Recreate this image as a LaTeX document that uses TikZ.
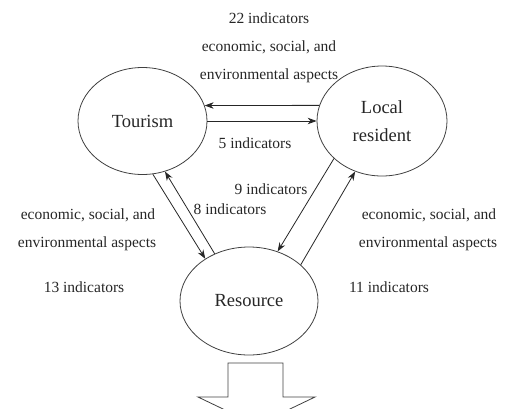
\documentclass[tikz,border=0pt]{standalone}
\usepackage{fontspec}
\setmainfont{Liberation Serif}
\usetikzlibrary{shapes.geometric,arrows.meta}
\begin{document}
\begin{tikzpicture}[>={Stealth[length=9pt,width=6.5pt]}, x=1pt, y=-1pt,
    party/.style={draw=black!75, line width=0.8pt, ellipse, inner sep=0pt, text=black!85, font=\fontsize{18.5}{20}\selectfont},
    lbl/.style={text=black!85, font=\fontsize{15.5}{17}\selectfont, inner sep=0pt},
    link/.style={->, black!85, line width=0.8pt}]
        \clip (0,0) rectangle (513,408);
        \node[party, minimum width=129, minimum height=107] (tour) at (142.5,121) {Tourism};
        \node[party, minimum width=130, minimum height=110, align=center] (loc) at (382,121) {Local\\[8pt]resident};
        \node[party, minimum width=138, minimum height=108] (res) at (249,301) {Resource};
        % labels
        \node[lbl] (l22) at (269,18) {22 indicators};
        \node[lbl] (ltop1) at (269,47) {economic, social, and};
        \node[lbl] (ltop2) at (269,76) {environmental aspects};
        \node[lbl] (l5) at (255,143) {5 indicators};
        \node[lbl] (l9) at (271,189) {9 indicators};
        \node[lbl] (l8) at (230,209) {8 indicators};
        \node[lbl] (lleft1) at (88,215) {economic, social, and};
        \node[lbl] (lleft2) at (87,244) {environmental aspects};
        \node[lbl] (l13) at (84,287) {13 indicators};
        \node[lbl] (lright1) at (429,215) {economic, social, and};
        \node[lbl] (lright2) at (428,244) {environmental aspects};
        \node[lbl] (l11) at (389,287) {11 indicators};
        % connectors
        \draw[link] (loc.166) -- (tour.14);
        \draw[link] (tour.east) -- (loc.west);
        \draw[link] (tour.-79) -- (res.136);
        \draw[link] (res.126) -- (tour.-66);
        \draw[link] (loc.218) -- (res.60);
        \draw[link] (res.35) -- (loc.242);
        % outcome arrow
        \draw[black!75, line width=0.8pt] (228,363) -- (283,363) -- (283,397) -- (315,397) -- (256.5,425) -- (198,397) -- (228,397) -- cycle;
    \end{tikzpicture}
\end{document}
